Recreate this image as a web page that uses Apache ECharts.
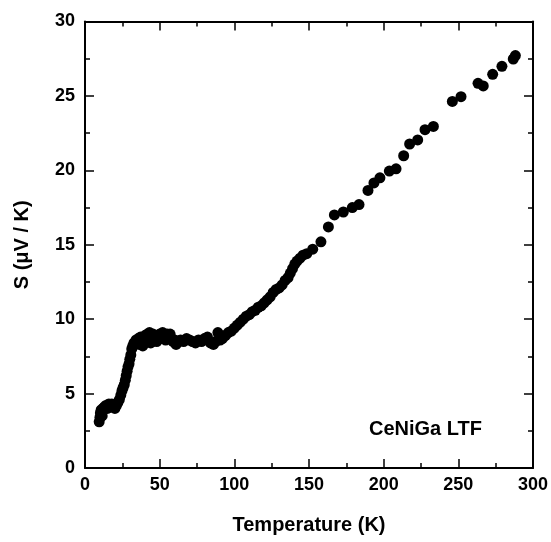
<!DOCTYPE html>
<html>
<head>
<meta charset="utf-8">
<script src="https://cdn.jsdelivr.net/npm/echarts@6/dist/echarts.min.js"></script>
<style>
html,body{margin:0;padding:0;background:#fff;}
#c{width:551px;height:542px;}
</style>
</head>
<body>
<div id="c"></div>
<script>
// Temperature (K)
const temperature = [9.5,10,10.3,10.8,11.5,12,13,14,15,16,17,18,19,20,21,22,23,24,24.8,25.5,26.3,27,27.6,28.2,28.8,29.5,30,30.7,31.3,32,32.8,33.5,34.2,35,35.7,36.5,37.2,38,38.7,39.5,40.2,41,41.7,42.5,43.2,44,44.8,45.5,46.3,47,48,49,50,51,52,53,54,55,56,57,58,59,60,61,62,64,66,68,70,72,74,76,78,80,82,84,86,87.5,89,90.5,92,94,96,98,100,102,104,106,108,110,112,114,116,118,120,122,124,126,128,130,132,134,136,137.5,139,140.5,142,144,146,148.5,152.5,158,163,167,173,179,183.5,189.5,193.5,197.5,203.8,208.3,213.4,217.4,222.8,227.7,233.3,246,251.8,263.2,266.7,273,279.2,286.8,288.2];
// Seebeck coefficient S (µV/K)
const seebeck = [3.1,3.4,3.7,3.9,3.5,4.0,4.1,4.2,4.0,4.3,4.2,4.3,4.1,4.0,4.2,4.4,4.6,4.9,5.2,5.4,5.6,5.9,6.2,6.5,6.8,7.0,7.3,7.6,8.0,8.2,8.4,8.3,8.6,8.5,8.7,8.3,8.8,8.6,8.2,8.7,8.9,8.5,9.0,8.7,9.1,8.4,8.8,9.0,8.6,8.9,8.5,8.8,9.0,8.7,9.1,8.9,8.6,9.0,8.8,9.0,8.7,8.5,8.6,8.3,8.5,8.6,8.5,8.7,8.6,8.5,8.4,8.6,8.5,8.7,8.8,8.4,8.3,8.5,9.1,8.6,8.7,8.9,9.1,9.2,9.4,9.6,9.8,10.0,10.2,10.3,10.5,10.6,10.8,10.9,11.1,11.3,11.5,11.8,12.0,12.1,12.3,12.6,12.8,13.1,13.4,13.7,13.9,14.1,14.3,14.4,14.7,15.2,16.2,17.0,17.2,17.5,17.7,18.65,19.15,19.5,19.95,20.1,20.98,21.77,22.04,22.73,22.95,24.63,24.95,25.85,25.67,26.45,26.99,27.48,27.71];
const xTicks = [0,50,100,150,200,250,300];
const yTicks = [0,5,10,15,20,25,30];
const sampleLabel = 'CeNiGa LTF';

const data = temperature.map((t,i)=>[t,seebeck[i]]);
const FONT = '"Liberation Sans", Arial, sans-serif';
const lineStyle = {color:'#000', width:2};
const axisCommon = {
  axisLine:{show:true, onZero:false, lineStyle:lineStyle},
  axisTick:{show:true, inside:true, length:9, lineStyle:{color:'#000', width:1.5}},
  minorTick:{show:true, splitNumber:2, length:5, lineStyle:{color:'#000', width:1.5}},
  splitLine:{show:false}
};
const chart = echarts.init(document.getElementById('c'), null, {renderer:'canvas'});
chart.setOption({
  animation:false,
  backgroundColor:'#fff',
  grid:{left:85, right:18, top:21.5, bottom:74},
  xAxis:[
    Object.assign({type:'value', position:'bottom', min:xTicks[0], max:xTicks[xTicks.length-1], interval:50,
      name:'Temperature (K)', nameLocation:'middle', nameGap:47,
      nameTextStyle:{fontFamily:FONT, fontWeight:'bold', fontSize:20, color:'#000'},
      axisLabel:{fontFamily:FONT, fontWeight:'bold', fontSize:18, color:'#000', margin:8}}, axisCommon),
    Object.assign({type:'value', position:'top', min:xTicks[0], max:xTicks[xTicks.length-1], interval:50,
      axisLabel:{show:false}}, axisCommon)
  ],
  yAxis:[
    Object.assign({type:'value', position:'left', min:yTicks[0], max:yTicks[yTicks.length-1], interval:5,
      name:'S (μV / K)', nameLocation:'middle', nameGap:53, nameRotate:90,
      nameTextStyle:{fontFamily:FONT, fontWeight:'bold', fontSize:20, color:'#000'},
      axisLabel:{fontFamily:FONT, fontWeight:'bold', fontSize:18, color:'#000', margin:10}}, axisCommon),
    Object.assign({type:'value', position:'right', min:yTicks[0], max:yTicks[yTicks.length-1], interval:5,
      axisLabel:{show:false}}, axisCommon)
  ],
  series:[{
    type:'scatter', xAxisIndex:0, yAxisIndex:0, data:data,
    symbol:'circle', symbolSize:11,
    itemStyle:{color:'#000', opacity:1}
  }],
  graphic:[{
    type:'text', left:369, top:419,
    style:{text:sampleLabel, font:'bold 20px "Liberation Sans", Arial, sans-serif', fill:'#000'}
  }]
});
</script>
</body>
</html>
